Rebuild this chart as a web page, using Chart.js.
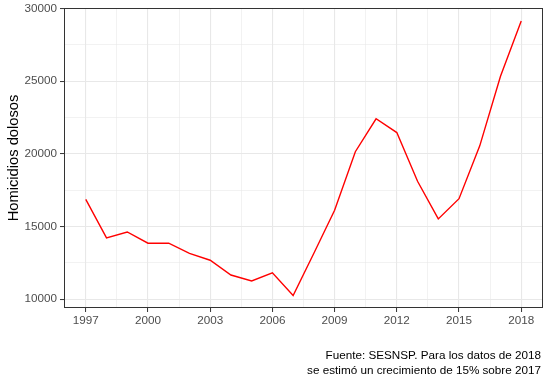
<!DOCTYPE html>
<html>
<head>
<meta charset="utf-8">
<script src="https://cdn.jsdelivr.net/npm/chart.js@4/dist/chart.umd.min.js"></script>
<style>
  html, body { margin: 0; padding: 0; background: #fff; }
  #wrap { width: 550px; height: 384px; }
</style>
</head>
<body>
<div id="wrap"><canvas id="chart" width="550" height="384"></canvas></div>
<script>
// Homicidios dolosos por año (SESNSP; 2018 estimado)
const years = [1997, 1998, 1999, 2000, 2001, 2002, 2003, 2004, 2005, 2006, 2007,
               2008, 2009, 2010, 2011, 2012, 2013, 2014, 2015, 2016, 2017, 2018];
const homicidios = [16866, 14216, 14619, 13849, 13855, 13144, 12676, 11658, 11246, 11806, 10253,
                    13155, 16118, 20143, 22409, 21459, 18106, 15520, 16909, 20547, 25339, 29140];
const xTicks = [1997, 2000, 2003, 2006, 2009, 2012, 2015, 2018];
const yTicks = [10000, 15000, 20000, 25000, 30000];
const captionLines = ['Fuente: SESNSP. Para los datos de 2018', 'se estimó un crecimiento de 15% sobre 2017'];

const FONT = "'Liberation Sans', Arial, Helvetica, sans-serif";
const GRID = '#e8e8e8';
const DARK = '#333333';

// major ticks + midpoints between them (ggplot-style minor breaks)
function withMinor(major) {
  const out = [];
  major.forEach((v, i) => {
    out.push(v);
    if (i < major.length - 1) out.push((v + major[i + 1]) / 2);
  });
  return out;
}

const isMajor = (list) => (v) => list.includes(v);
const xMajor = isMajor(xTicks);
const yMajor = isMajor(yTicks);

const panelBorder = {
  id: 'panelBorder',
  afterDatasetsDraw(chart) {
    const { ctx, chartArea: a } = chart;
    ctx.save();
    ctx.strokeStyle = DARK;
    ctx.lineWidth = 1;
    ctx.strokeRect(Math.round(a.left) + 0.5, Math.round(a.top) + 0.5,
                   Math.round(a.right - a.left) - 1, Math.round(a.bottom - a.top) - 1);
    ctx.restore();
  }
};

const caption = {
  id: 'caption',
  afterDraw(chart) {
    const { ctx, chartArea: a } = chart;
    ctx.save();
    ctx.fillStyle = '#000';
    ctx.font = '11.7px ' + FONT;
    ctx.textAlign = 'right';
    ctx.textBaseline = 'middle';
    captionLines.forEach((line, i) => ctx.fillText(line, a.right - 2, 356 + i * 14.5));
    ctx.restore();
  }
};

new Chart(document.getElementById('chart'), {
  type: 'line',
  data: {
    datasets: [{
      data: years.map((y, i) => ({ x: y, y: homicidios[i] })),
      borderColor: '#ff0000',
      borderWidth: 1.4,
      pointRadius: 0,
      tension: 0,
      fill: false
    }]
  },
  options: {
    responsive: false,
    animation: false,
    layout: { padding: { top: 8, right: 7, left: 0, bottom: 0 } },
    plugins: {
      legend: { display: false },
      tooltip: { enabled: false }
    },
    scales: {
      x: {
        type: 'linear',
        min: 1995.95,
        max: 2019.05,
        afterBuildTicks: (s) => { s.ticks = withMinor(xTicks).map(v => ({ value: v })); },
        afterFit: (s) => { s.height = 76; s.paddingLeft = 0; s.paddingRight = 0; },
        border: { display: false },
        grid: {
          color: GRID,
          lineWidth: (c) => xMajor(c.tick.value) ? 1.1 : 0.55,
          tickColor: (c) => xMajor(c.tick.value) ? DARK : 'rgba(0,0,0,0)',
          tickLength: 4,
          tickWidth: 1
        },
        ticks: {
          autoSkip: false,
          maxRotation: 0,
          padding: 2,
          color: '#4d4d4d',
          font: { family: FONT, size: 11.7 },
          callback: (v) => xMajor(v) ? String(v) : ''
        }
      },
      y: {
        min: 9390,
        max: 30030,
        afterBuildTicks: (s) => { s.ticks = withMinor(yTicks).map(v => ({ value: v })); },
        afterFit: (s) => { s.width = 64; s.paddingTop = 0; s.paddingBottom = 0; },
        border: { display: false },
        grid: {
          color: GRID,
          lineWidth: (c) => yMajor(c.tick.value) ? 1.1 : 0.55,
          tickColor: (c) => yMajor(c.tick.value) ? DARK : 'rgba(0,0,0,0)',
          tickLength: 4,
          tickWidth: 1
        },
        ticks: {
          autoSkip: false,
          padding: 3,
          color: '#4d4d4d',
          font: { family: FONT, size: 11.7 },
          callback: (v) => yMajor(v) ? String(v) : ''
        },
        title: {
          display: true,
          text: 'Homicidios dolosos',
          color: '#000',
          font: { family: FONT, size: 14.7 },
          padding: { top: 5, bottom: 0 }
        }
      }
    }
  },
  plugins: [panelBorder, caption]
});
</script>
</body>
</html>
